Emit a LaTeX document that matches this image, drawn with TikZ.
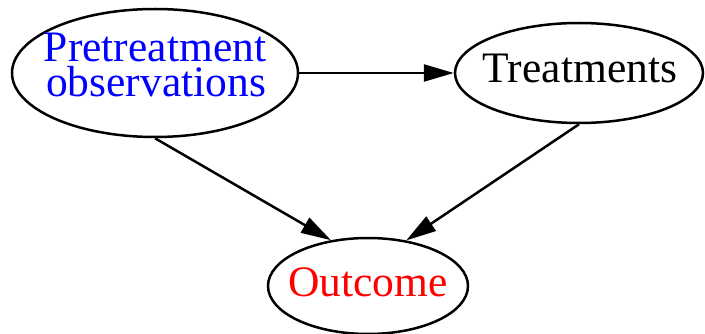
\documentclass[tikz,border=0pt]{standalone}
\usepackage{fontspec}
\setmainfont{Liberation Serif}
\usetikzlibrary{shapes.geometric,arrows.meta}
\tikzset{
  ell/.style={draw=black, line width=2.5pt, ellipse, inner sep=0pt},
  txt/.style={inner sep=0pt, anchor=base, font=\fontsize{43.5}{35}\selectfont},
  edge/.style={draw=black, line width=2.5pt, -{Triangle[length=30pt,width=17pt]}}
}
\begin{document}
\begin{tikzpicture}[x=1pt,y=1pt]
\useasboundingbox (0,0) rectangle (705,-334);
\node[ell, minimum width=286pt, minimum height=128pt] (pre) at (155,-73) {};
\node[ell, minimum width=248pt, minimum height=100pt] (trt) at (579,-73) {};
\node[ell, minimum width=200pt, minimum height=96pt] (out) at (368,-286) {};
\node[txt, text=blue] (pretxt1) at (155,-62) {Pretreatment};
\node[txt, text=blue] (pretxt2) at (156,-97) {observations};
\node[txt] (trttxt) at (580,-83) {Treatments};
\node[txt, text=red] (outtxt) at (368,-296) {Outcome};
\draw[edge] (pre.east) -- (trt.west);
\draw[edge] (pre.south) -- (out.129);
\draw[edge] (trt.south) -- (out.50);
\end{tikzpicture}
\end{document}
